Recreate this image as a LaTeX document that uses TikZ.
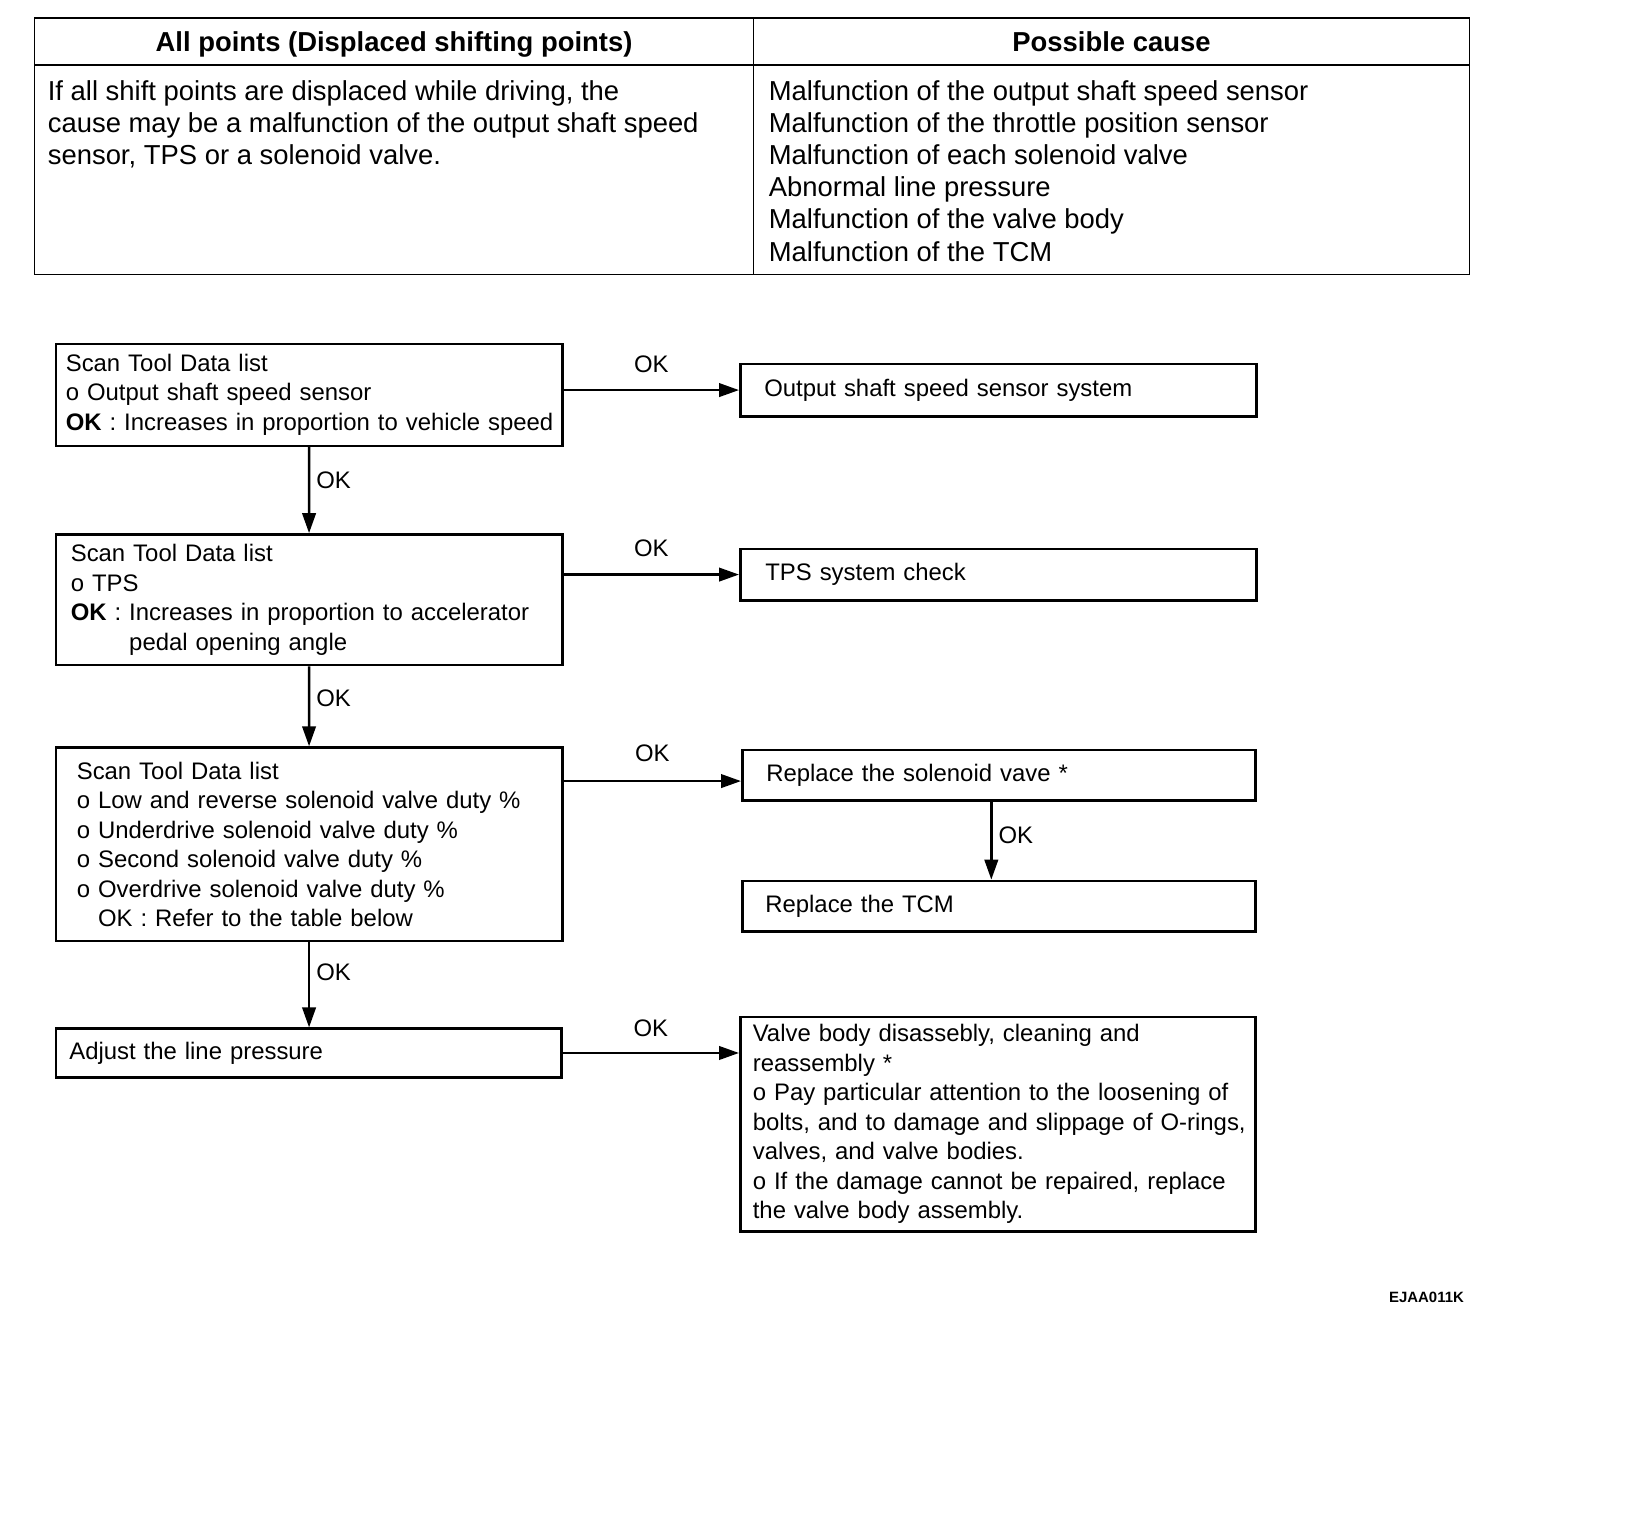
\documentclass[tikz,border=0pt]{standalone}
\usepackage{fontspec}
\setmainfont{Liberation Sans}
\usetikzlibrary{positioning, arrows.meta, calc}

\newcommand{\flowfont}{\fontsize{13.6pt}{16.75pt}\selectfont}
\newcommand{\tablefont}{\fontsize{15.6pt}{18.3pt}\selectfont}
\newcommand{\codefont}{\fontsize{8.5pt}{10pt}\selectfont\bfseries}

\begin{document}
\begin{tikzpicture}[
    every node/.style={font=\flowfont},
    flowbox/.style={draw, line width=1.5pt, rectangle, anchor=north west,
                    align=left, inner ysep=0pt},
    flowarrow/.style={-{Triangle[length=0.4cm, width=0.27cm]}, line width=1.4pt},
    oklabel/.style={inner sep=0pt}
  ]

  \useasboundingbox (0,0) rectangle (32.96,-30.80);

  % ============================================================
  %  TABLE — symptom / possible cause
  % ============================================================
  \coordinate (tabNW) at (0.69,-0.36);
  \coordinate (tabSE) at (29.39,-5.49);
  \coordinate (colsplit) at (15.07,-0.36);
  \coordinate (headline) at (0.69,-1.30);

  \draw[line width=1.1pt] (tabNW) rectangle (tabSE);
  \draw[line width=1.1pt] (headline) -- (headline -| tabSE);
  \draw[line width=1.1pt] (colsplit) -- (colsplit |- tabSE);

  % Header cells
  \node[anchor=base, font=\tablefont\bfseries] (headsymptom) at (7.88,-1.04)
    {All points (Displaced shifting points)};
  \node[anchor=base, font=\tablefont\bfseries] (headcause) at (22.23,-1.04)
    {Possible cause};

  % Body cells
  \node[anchor=north west, align=left, inner sep=0pt, font=\tablefont]
    (symptom) at (0.95,-1.60)
    {If all shift points are displaced while driving, the\\
     cause may be a malfunction of the output shaft speed\\
     sensor, TPS or a solenoid valve.};
  \node[anchor=north west, align=left, inner sep=0pt, font=\tablefont]
    (causes) at (15.37,-1.60)
    {Malfunction of the output shaft speed sensor\\
     Malfunction of the throttle position sensor\\
     Malfunction of each solenoid valve\\
     Abnormal line pressure\\
     Malfunction of the valve body\\
     Malfunction of the TCM};

  % ============================================================
  %  FLOWCHART — left column (checks)
  % ============================================================
  \node[flowbox, text width=9.73cm, inner xsep=0.2cm, minimum height=2.04cm]
    (scan1) at (1.09,-6.85)
    {Scan Tool Data list\\
     o Output shaft speed sensor\\
     \mbox{\textbf{OK} : Increases in proportion to vehicle speed}};

  \node[flowbox, below=1.72cm of scan1.south west, anchor=north west,
        text width=9.53cm, inner xsep=0.3cm, minimum height=2.61cm]
    (scan2)
    {Scan Tool Data list\\
     o TPS\\
     \textbf{OK} : Increases in proportion to accelerator\\
     \phantom{\textbf{OK} : }pedal opening angle};

  \node[flowbox, below=1.6cm of scan2.south west, anchor=north west,
        text width=9.29cm, inner xsep=0.42cm, minimum height=3.87cm]
    (scan3)
    {Scan Tool Data list\\
     o Low and reverse solenoid valve duty \%\\
     o Underdrive solenoid valve duty \%\\
     o Second solenoid valve duty \%\\
     o Overdrive solenoid valve duty \%\\
     \phantom{o }OK : Refer to the table below};

  \node[flowbox, below=1.7cm of scan3.south west, anchor=north west,
        text width=9.57cm, inner xsep=0.27cm, minimum height=0.97cm]
    (adjust) {Adjust the line pressure};

  % ============================================================
  %  FLOWCHART — right column (actions)
  % ============================================================
  \node[flowbox, text width=9.36cm, inner xsep=0.48cm, minimum height=1.05cm]
    (osscheck) at (14.78,-7.25) {Output shaft speed sensor system};

  \node[flowbox, text width=9.32cm, inner xsep=0.5cm, minimum height=1.03cm]
    (tpscheck) at (14.78,-10.95) {TPS system check};

  \node[flowbox, text width=9.30cm, inner xsep=0.48cm, minimum height=1.01cm]
    (solenoid) at (14.82,-14.97) {Replace the solenoid vave *};

  \node[flowbox, below=1.56cm of solenoid.south west, anchor=north west,
        text width=9.34cm, inner xsep=0.46cm, minimum height=1.01cm]
    (tcm) {Replace the TCM};

  \node[flowbox, text width=9.80cm, inner xsep=0.25cm, minimum height=4.29cm]
    (valvebody) at (14.78,-20.31)
    {Valve body disassebly, cleaning and\\
     reassembly *\\
     o Pay particular attention to the loosening of\\
     \mbox{bolts, and to damage and slippage of O-rings,}\\
     valves, and valve bodies.\\
     o If the damage cannot be repaired, replace\\
     the valve body assembly.};

  % Arrow entry points (slightly off the box centres)
  \coordinate (solenoidin) at ([yshift=-0.12cm]solenoid.west);
  \coordinate (solenoidout) at ([xshift=-0.15cm]solenoid.south);

  % --- Horizontal OK arrows ---
  \draw[flowarrow] (scan1.east |- osscheck.west) -- (osscheck.west)
    node[midway, above=0.33cm, oklabel] {OK};
  \draw[flowarrow] (scan2.east |- tpscheck.west) -- (tpscheck.west)
    node[midway, above=0.33cm, oklabel] {OK};
  \draw[flowarrow] (scan3.east |- solenoidin) -- (solenoidin)
    node[midway, above=0.36cm, oklabel] {OK};
  \draw[flowarrow] (adjust.east) -- (adjust.east -| valvebody.west)
    node[midway, above=0.3cm, oklabel] {OK};

  % --- Vertical OK arrows ---
  \draw[flowarrow] (scan1.south) -- (scan2.north)
    node[pos=0.38, right=0.12cm, oklabel] {OK};
  \draw[flowarrow] (scan2.south) -- (scan3.north)
    node[pos=0.4, right=0.12cm, oklabel] {OK};
  \draw[flowarrow] (scan3.south) -- (scan3.south |- adjust.north)
    node[pos=0.35, right=0.12cm, oklabel] {OK};
  \draw[flowarrow] (solenoidout) -- (solenoidout |- tcm.north)
    node[pos=0.43, right=0.12cm, oklabel] {OK};

  % Figure code
  \node[font=\codefont] (figcode) at (28.53,-25.94) {EJAA011K};

\end{tikzpicture}
\end{document}
